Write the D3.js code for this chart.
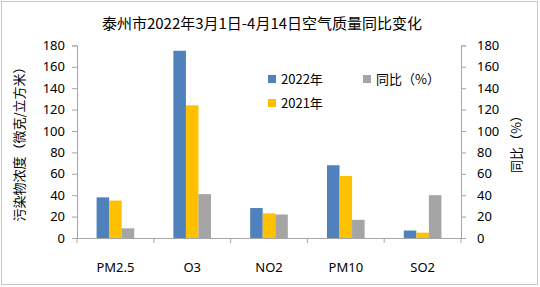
<!DOCTYPE html>
<html><head><meta charset="utf-8">
<script src="https://cdn.jsdelivr.net/npm/d3@7"></script>
<style>
body{margin:0;background:#fff;}
text{font-family:"Noto Sans CJK SC","Noto Sans",sans-serif;fill:#000;}
</style></head>
<body><svg id="c" width="540" height="287"></svg>
<script>
const categories = ["PM2.5","O3","NO2","PM10","SO2"];
const values2022 = [38,175,28,68,7];
const values2021 = [35,124,23,58,5];
const yoyPct = [9,41,22,17,40];
const seriesNames = ["2022年","2021年","同比（%）"];
const leftTicks = [0,20,40,60,80,100,120,140,160,180];
const rightTicks = [0,20,40,60,80,100,120,140,160,180];
const colors = ["#4f81bd","#ffc000","#a5a5a5"];

const svg = d3.select("#c");
svg.append("rect").attr("x",1.5).attr("y",1.5).attr("width",536).attr("height",283)
  .attr("fill","#fff").attr("stroke","#c8c8c8").attr("stroke-width",1);

const L=77, R=461, T=45.4, B=238;
const x = d3.scaleBand().domain(categories).range([L,R]).padding(0);
const inner = d3.scaleBand().domain([0,1,2]).range([x.bandwidth()*0.255, x.bandwidth()*0.745]).padding(0);
const yL = d3.scaleLinear().domain([0,180]).range([B,T]);
const yR = d3.scaleLinear().domain([0,180]).range([B,T]);

const data = categories.map((c,i)=>({c, v:[values2022[i],values2021[i],yoyPct[i]]}));
const g = svg.append("g");
data.forEach(d=>{
  d.v.forEach((v,k)=>{
    const sc = k===2? yR : yL;
    g.append("rect").attr("x",x(d.c)+inner(k)).attr("width",inner.bandwidth())
      .attr("y",sc(v)).attr("height",B-sc(v)).attr("fill",colors[k]);
  });
});

const axColor="#a6a6a6";
function styleAxis(sel){
  sel.selectAll("path").attr("stroke",axColor);
  sel.selectAll("line").attr("stroke",axColor);
  sel.selectAll("text").style("font-size","13px").style("font-family","'Noto Sans','Open Sans',sans-serif");
}
const axL = svg.append("g").attr("transform",`translate(${L},0)`)
  .call(d3.axisLeft(yL).tickValues(leftTicks).tickSize(5).tickSizeOuter(5).tickPadding(7));
styleAxis(axL);
const axR = svg.append("g").attr("transform",`translate(${R},0)`)
  .call(d3.axisRight(yR).tickValues(rightTicks).tickSize(5).tickSizeOuter(5).tickPadding(11));
styleAxis(axR);
const axB = svg.append("g").attr("transform",`translate(0,${B})`)
  .call(d3.axisBottom(x).tickSize(0).tickPadding(25));
styleAxis(axB);
axB.select("path").attr("d",`M${L},0.5H${R}`);
const bounds = categories.map(c=>x(c)).concat([R]);
axB.selectAll(".bt").data(bounds).enter().append("line")
  .attr("x1",d=>d).attr("x2",d=>d).attr("y1",0).attr("y2",5).attr("stroke",axColor);

svg.append("text").attr("x",262).attr("y",29).attr("text-anchor","middle")
  .style("font-size","15px").text("泰州市2022年3月1日-4月14日空气质量同比变化");

svg.append("text").attr("transform","translate(24,141) rotate(-90)").attr("text-anchor","middle")
  .style("font-size","13px").text("污染物浓度（微克/立方米）");
svg.append("text").attr("transform","translate(521,141) rotate(-90)").attr("text-anchor","middle")
  .style("font-size","13px").text("同比（%）");

const leg = [{x:268,y:75,k:0},{x:268,y:99,k:1},{x:363,y:75,k:2}];
leg.forEach(l=>{
  svg.append("rect").attr("x",l.x).attr("y",l.y).attr("width",8).attr("height",8).attr("fill",colors[l.k]);
  svg.append("text").attr("x",l.x+13).attr("y",l.y+8.5).style("font-size","13px").text(seriesNames[l.k]);
});
</script></body></html>
